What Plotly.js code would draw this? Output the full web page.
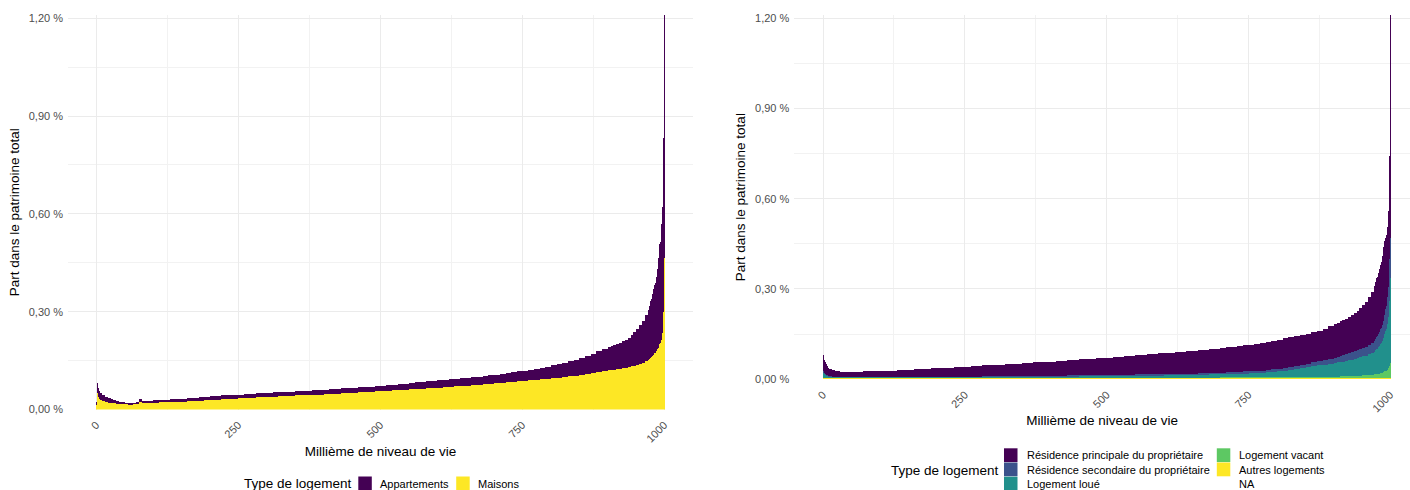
<!DOCTYPE html>
<html><head><meta charset="utf-8">
<script src="https://cdn.plot.ly/plotly-3.0.1.min.js"></script>
<style>html,body{margin:0;padding:0;background:#fff;overflow:hidden}#g{width:1410px;height:490px}
#g .barlayer path{shape-rendering:crispEdges !important}</style>
</head><body><div id="g"></div>
<script>
// Millièmes groupés : [début, fin, pas]
const groupes = [[1,10,1],[11,100,5],[101,900,10],[901,970,5],[971,1000,1]];

// ---- Graphique de gauche (en % du patrimoine total) ----
const maisons = [
0.014,0.050,0.042,0.037,0.034,0.032,0.030,0.029,0.028,0.027,
0.025,0.023,0.021,0.020,0.019,0.018,0.017,0.016,0.016,0.015,0.015,0.016,0.017,0.023,0.020,0.019,0.019,0.020,
0.021,0.022,0.022,0.023,0.023,0.024,0.025,0.026,0.027,0.028,
0.029,0.030,0.031,0.032,0.033,0.034,0.035,0.036,0.037,0.038,
0.039,0.039,0.040,0.041,0.042,0.043,0.044,0.044,0.045,0.046,
0.047,0.048,0.049,0.050,0.051,0.052,0.053,0.054,0.055,0.056,
0.057,0.058,0.059,0.060,0.061,0.062,0.063,0.064,0.065,0.066,
0.067,0.069,0.070,0.071,0.072,0.073,0.075,0.076,0.077,0.078,
0.080,0.081,0.083,0.085,0.087,0.088,0.090,0.091,0.093,0.095,
0.097,0.098,0.100,0.102,0.104,0.107,0.109,0.112,0.115,0.118,
0.120,0.121,0.122,0.124,0.125,0.127,0.128,0.130,0.132,0.134,0.137,0.140,0.144,0.149,
0.152,0.153,0.155,0.156,0.157,0.159,0.160,0.162,0.164,0.166,0.168,0.170,0.172,0.174,0.176,
0.179,0.182,0.185,0.188,0.190,0.195,0.200,0.203,0.207,0.212,0.218,0.235,0.265,0.300,0.466];
const appartements = [
0.009,0.032,0.030,0.029,0.028,0.026,0.025,0.023,0.022,0.021,
0.019,0.016,0.014,0.011,0.009,0.008,0.007,0.007,0.005,0.005,0.005,0.005,0.006,0.009,0.007,0.007,0.007,0.007,
0.007,0.007,0.008,0.008,0.009,0.009,0.010,0.010,0.011,0.011,
0.011,0.011,0.012,0.012,0.012,0.012,0.012,0.012,0.013,0.013,
0.013,0.014,0.013,0.013,0.013,0.013,0.013,0.014,0.014,0.014,
0.014,0.014,0.014,0.015,0.015,0.015,0.015,0.015,0.015,0.015,
0.016,0.016,0.017,0.017,0.018,0.019,0.020,0.021,0.022,0.022,
0.023,0.022,0.023,0.024,0.025,0.025,0.025,0.025,0.026,0.027,
0.027,0.028,0.028,0.029,0.030,0.031,0.032,0.034,0.035,0.036,
0.038,0.041,0.043,0.046,0.049,0.052,0.056,0.059,0.063,0.069,
0.072,0.074,0.076,0.077,0.079,0.082,0.086,0.090,0.096,0.103,0.110,0.118,0.128,0.141,
0.146,0.152,0.157,0.162,0.169,0.175,0.180,0.186,0.191,0.196,0.202,0.206,0.210,0.214,0.219,
0.226,0.233,0.245,0.252,0.275,0.275,0.308,0.312,0.356,0.357,0.374,0.385,0.393,0.532,0.743];

// ---- Graphique de droite ----
const autres = [
0.003,0.003,0.003,0.003,0.003,0.003,0.003,0.003,0.003,0.003,
0.003,0.003,0.003,0.003,0.003,0.003,0.003,0.003,0.003,0.003,0.003,0.003,0.003,0.003,0.003,0.003,0.003,0.003,
0.003,0.003,0.003,0.003,0.003,0.003,0.003,0.003,0.003,0.003,
0.003,0.003,0.003,0.003,0.003,0.003,0.003,0.003,0.003,0.003,
0.003,0.003,0.003,0.003,0.003,0.003,0.003,0.003,0.003,0.003,
0.003,0.003,0.003,0.003,0.003,0.003,0.003,0.003,0.003,0.003,
0.003,0.003,0.003,0.003,0.003,0.003,0.003,0.003,0.003,0.003,
0.003,0.003,0.003,0.003,0.003,0.003,0.003,0.003,0.003,0.003,
0.003,0.003,0.003,0.003,0.003,0.003,0.003,0.003,0.003,0.003,
0.003,0.003,0.003,0.003,0.003,0.003,0.003,0.003,0.003,0.003,
0.003,0.003,0.003,0.003,0.003,0.003,0.003,0.003,0.003,0.003,0.003,0.003,0.003,0.003,
0.003,0.003,0.003,0.003,0.003,0.003,0.003,0.003,0.003,0.003,0.003,0.003,0.003,0.003,0.003,
0.003,0.003,0.003,0.003,0.003,0.003,0.003,0.003,0.003,0.003,0.003,0.003,0.003,0.003,0.003];
const vacant = [
0.001,0.001,0.001,0.001,0.001,0.001,0.001,0.001,0.001,0.001,
0.001,0.001,0.001,0.001,0.001,0.001,0.001,0.001,0.001,0.001,0.001,0.001,0.001,0.001,0.001,0.001,0.001,0.001,
0.001,0.001,0.001,0.001,0.001,0.001,0.001,0.001,0.001,0.001,
0.001,0.001,0.001,0.001,0.001,0.001,0.001,0.001,0.001,0.001,
0.001,0.001,0.001,0.001,0.001,0.001,0.001,0.001,0.001,0.001,
0.001,0.001,0.001,0.001,0.001,0.001,0.001,0.001,0.001,0.001,
0.001,0.001,0.001,0.001,0.001,0.001,0.002,0.002,0.002,0.002,
0.002,0.002,0.002,0.002,0.002,0.002,0.002,0.002,0.002,0.002,
0.003,0.003,0.003,0.003,0.003,0.003,0.003,0.003,0.003,0.003,
0.004,0.004,0.004,0.004,0.004,0.004,0.005,0.005,0.005,0.005,
0.006,0.006,0.007,0.007,0.007,0.008,0.008,0.008,0.009,0.009,0.010,0.010,0.011,0.012,
0.013,0.013,0.013,0.014,0.014,0.014,0.015,0.015,0.015,0.016,0.016,0.017,0.017,0.018,0.018,
0.019,0.020,0.021,0.022,0.023,0.023,0.024,0.025,0.026,0.028,0.030,0.033,0.037,0.042,0.050];
const loue = [
0.018,0.015,0.013,0.011,0.009,0.008,0.007,0.006,0.006,0.005,
0.004,0.003,0.003,0.002,0.002,0.002,0.002,0.002,0.002,0.002,0.002,0.002,0.002,0.002,0.002,0.002,0.002,0.002,
0.002,0.002,0.002,0.002,0.002,0.002,0.002,0.002,0.002,0.002,
0.003,0.003,0.003,0.003,0.003,0.003,0.003,0.003,0.003,0.003,
0.004,0.004,0.004,0.004,0.004,0.004,0.004,0.004,0.005,0.005,
0.005,0.005,0.005,0.005,0.005,0.006,0.006,0.006,0.006,0.006,
0.006,0.007,0.007,0.007,0.007,0.007,0.007,0.007,0.007,0.007,
0.008,0.008,0.008,0.008,0.009,0.009,0.010,0.010,0.011,0.011,
0.011,0.011,0.012,0.013,0.013,0.014,0.015,0.016,0.017,0.018,
0.019,0.021,0.024,0.027,0.030,0.033,0.035,0.038,0.041,0.044,
0.046,0.047,0.047,0.049,0.051,0.052,0.054,0.057,0.058,0.061,0.063,0.066,0.069,0.072,
0.074,0.076,0.078,0.079,0.081,0.083,0.084,0.086,0.088,0.089,0.092,0.094,0.097,0.099,0.103,
0.106,0.110,0.114,0.118,0.123,0.129,0.134,0.140,0.147,0.154,0.162,0.172,0.185,0.215,0.282];
const secondaire = [
0.004,0.004,0.003,0.003,0.003,0.003,0.003,0.003,0.002,0.002,
0.002,0.002,0.001,0.002,0.002,0.001,0.001,0.001,0.001,0.001,0.001,0.001,0.001,0.001,0.001,0.001,0.001,0.001,
0.001,0.001,0.001,0.001,0.001,0.002,0.002,0.002,0.002,0.002,
0.001,0.001,0.002,0.002,0.002,0.002,0.002,0.002,0.003,0.003,
0.002,0.002,0.002,0.003,0.003,0.003,0.003,0.003,0.003,0.003,
0.003,0.003,0.003,0.004,0.004,0.003,0.003,0.004,0.004,0.004,
0.004,0.004,0.004,0.004,0.004,0.005,0.004,0.004,0.004,0.005,
0.004,0.004,0.005,0.005,0.005,0.005,0.005,0.006,0.005,0.006,
0.005,0.006,0.006,0.006,0.007,0.007,0.007,0.007,0.008,0.009,
0.009,0.010,0.010,0.010,0.011,0.012,0.013,0.014,0.015,0.016,
0.017,0.018,0.020,0.021,0.022,0.024,0.025,0.025,0.026,0.027,0.028,0.029,0.030,0.032,
0.034,0.035,0.036,0.037,0.038,0.040,0.041,0.043,0.044,0.046,0.047,0.048,0.049,0.051,0.052,
0.054,0.055,0.057,0.060,0.063,0.067,0.072,0.077,0.082,0.087,0.095,0.097,0.105,0.140,0.133];
const principale = [
0.055,0.049,0.044,0.040,0.037,0.035,0.033,0.031,0.029,0.028,
0.024,0.022,0.020,0.018,0.017,0.017,0.016,0.016,0.016,0.017,0.017,0.018,0.019,0.022,0.020,0.020,0.020,0.021,
0.021,0.021,0.022,0.023,0.024,0.024,0.025,0.026,0.027,0.028,
0.029,0.030,0.030,0.031,0.032,0.033,0.034,0.036,0.036,0.037,
0.038,0.039,0.040,0.040,0.041,0.043,0.044,0.045,0.045,0.046,
0.047,0.048,0.050,0.050,0.051,0.053,0.054,0.054,0.056,0.057,
0.058,0.059,0.060,0.062,0.063,0.064,0.066,0.067,0.069,0.069,
0.071,0.072,0.073,0.074,0.075,0.076,0.077,0.077,0.079,0.080,
0.082,0.083,0.084,0.085,0.087,0.088,0.090,0.092,0.093,0.095,
0.097,0.098,0.099,0.100,0.100,0.100,0.101,0.102,0.104,0.108,
0.112,0.113,0.115,0.116,0.118,0.120,0.123,0.127,0.131,0.136,0.142,0.150,0.159,0.171,
0.180,0.183,0.186,0.189,0.192,0.195,0.198,0.200,0.204,0.206,0.208,0.211,0.214,0.217,0.220,
0.228,0.237,0.245,0.247,0.246,0.243,0.237,0.235,0.234,0.233,0.250,0.255,0.277,0.343,0.744];

const couleursGauche = {appartements:'#440154', maisons:'#FDE725'};
const couleursDroite = ['#440154','#3B528B','#21908C','#5DC863','#FDE725'];
const legendeDroite = ['Résidence principale du propriétaire','Résidence secondaire du propriétaire','Logement loué','Logement vacant','Autres logements','NA'];
const ticksX = [0,250,500,750,1000];

// centres et largeurs des barres
const millieme = [], largeur = [];
for (const [d,f,p] of groupes) for (let s=d; s<=f; s+=p) { millieme.push(s+(p-1)/2); largeur.push(p); }

const W = 1410, H = 490;
const px = v => v / W, py = v => 1 - v / H;
const FONT = 'Liberation Sans, Arial, Helvetica, sans-serif';

function barre(y, couleur, nom, xa, ya) {
  return {type:'bar', x:millieme, y:y, width:largeur, name:nom, xaxis:xa, yaxis:ya,
    marker:{color:couleur, line:{width:0}}, showlegend:false, hoverinfo:'skip'};
}
const data = [
  barre(maisons, couleursGauche.maisons, 'Maisons', 'x', 'y'),
  barre(appartements, couleursGauche.appartements, 'Appartements', 'x', 'y'),
  barre(autres, couleursDroite[4], legendeDroite[4], 'x2', 'y2'),
  barre(vacant, couleursDroite[3], legendeDroite[3], 'x2', 'y2'),
  barre(loue, couleursDroite[2], legendeDroite[2], 'x2', 'y2'),
  barre(secondaire, couleursDroite[1], legendeDroite[1], 'x2', 'y2'),
  barre(principale, couleursDroite[0], legendeDroite[0], 'x2', 'y2')
];

function axeX(domain, range, anchor) {
  return {domain:domain, range:range, anchor:anchor, tickmode:'array', tickvals:ticksX,
    tickangle:-45, ticks:'', showline:false, zeroline:false, showgrid:true,
    gridcolor:'#EBEBEB', gridwidth:1, automargin:false, ticklabelstandoff:6,
    minor:{tickvals:[125,375,625,875], showgrid:true, gridcolor:'#F2F2F2', gridwidth:1},
    tickfont:{family:FONT, size:11, color:'#4D4D4D'},
    title:{text:'Millième de niveau de vie', font:{family:FONT, size:13.5, color:'#000'}, standoff:2}};
}
function axeY(domain, anchor) {
  return {domain:domain, range:[0,1.21], anchor:anchor, tickmode:'linear', tick0:0, dtick:0.3,
    tickformat:'.2f', ticksuffix:' %', ticks:'', showline:false, zeroline:false, showgrid:true,
    gridcolor:'#EBEBEB', gridwidth:1, automargin:false, ticklabelstandoff:4,
    minor:{dtick:0.15, showgrid:true, gridcolor:'#F2F2F2', gridwidth:1},
    tickfont:{family:FONT, size:11, color:'#4D4D4D'},
    title:{text:'Part dans le patrimoine total', font:{family:FONT, size:13.5, color:'#000'}, standoff:6}};
}

const shapes = [], annotations = [];
function cle(x0, y0, couleur) {
  shapes.push({type:'rect', xref:'paper', yref:'paper', x0:px(x0), x1:px(x0+13.5), y0:py(y0), y1:py(y0+13.8),
    fillcolor:couleur, line:{width:0}});
}
function texte(t, x, y, size) {
  annotations.push({text:t, xref:'paper', yref:'paper', x:px(x), y:py(y), xanchor:'left', yanchor:'middle',
    showarrow:false, font:{family:FONT, size:size, color:'#000'}});
}
// légende gauche
texte('Type de logement', 242, 483.5, 13.5);
cle(358.3, 476.5, couleursGauche.appartements); texte('Appartements', 378, 483.5, 11);
cle(456.2, 476.5, couleursGauche.maisons); texte('Maisons', 476, 483.5, 11);
// légende droite
texte('Type de logement', 888.5, 470.5, 13.5);
const rangs = [448.3, 462.5, 476.7];
for (let i = 0; i < 6; i++) {
  const col = Math.floor(i / 3), r = i % 3;
  const xs = col === 0 ? 1004 : 1216.8;
  if (i < 5) cle(xs, rangs[r], couleursDroite[i]);
  texte(legendeDroite[i], xs + 20.5, rangs[r] + 7, 11);
}

const layout = {
  width:W, height:H, margin:{l:0, r:0, t:0, b:0}, paper_bgcolor:'#fff', plot_bgcolor:'#fff',
  barmode:'stack', bargap:0, separators:', ', showlegend:false,
  font:{family:FONT},
  xaxis: axeX([px(68), px(693)], [-49.5, 1050.5], 'y'),
  yaxis: axeY([py(409.5), py(15)], 'x'),
  xaxis2: axeX([px(794.3), 1], [-50.6, 1034.7], 'y2'),
  yaxis2: axeY([py(379.3), py(15)], 'x2'),
  shapes:shapes, annotations:annotations
};
Plotly.newPlot('g', data, layout, {staticPlot:true, displayModeBar:false});
</script></body></html>
